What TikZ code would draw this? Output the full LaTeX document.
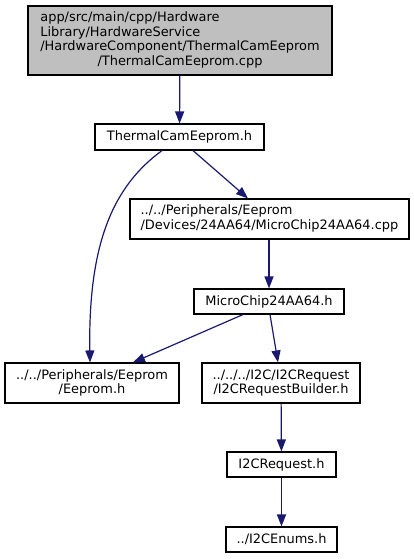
\documentclass[tikz,border=0pt]{standalone}
\usepackage{fontspec}
\setmainfont{DejaVu Sans}
\definecolor{DoxyEdge}{HTML}{191970}
\definecolor{DoxyRoot}{HTML}{BFBFBF}
\definecolor{DoxyBorder}{HTML}{000000}
\usetikzlibrary{arrows.meta,positioning}
\tikzset{
    % Plain file boxes
    filebox/.style={
        rectangle,
        draw=DoxyBorder,
        line width=1.1pt,
        fill=white,
        text=black,
        inner sep=0pt,
        align=center,
        font=\fontsize{12.95}{14.5}\selectfont
    },
    filebox root/.style={
        filebox,
        fill=DoxyRoot
    },
    include/.style={
        -{Triangle[length=12pt,width=9pt]},
        line width=1.2pt,
        color=DoxyEdge
    }
}
\begin{document}
\begin{tikzpicture}[x=1pt, y=-1pt]
        \useasboundingbox (0,0) rectangle (414,559);

        % Files
        \node[filebox root, minimum width=304pt, minimum height=69pt] (root) at (180,40.5)
              {\begin{tabular}{@{}l@{}}app/src/main/cpp/Hardware\\Library/HardwareService\\/HardwareComponent/ThermalCamEeprom\\\multicolumn{1}{@{}c@{}}{/ThermalCamEeprom.cpp}\end{tabular}};
        \node[filebox, minimum width=169pt, minimum height=26pt] (camh) at (179.5,137) {ThermalCamEeprom.h};
        \node[filebox, minimum width=279pt, minimum height=40pt] (chipcpp) at (269.5,219)
              {\begin{tabular}{@{}l@{}}../../Peripherals/Eeprom\\/Devices/24AA64/MicroChip24AA64.cpp\end{tabular}};
        \node[filebox, minimum width=150pt, minimum height=25pt] (chiph) at (269,301.5) {MicroChip24AA64.h};
        \node[filebox, minimum width=174pt, minimum height=40pt] (eeprom) at (92,383)
              {../../Peripherals/Eeprom\\/Eeprom.h};
        \node[filebox, minimum width=158pt, minimum height=40pt] (builder) at (281,383)
              {../../../I2C/I2CRequest\\/I2CRequestBuilder.h};
        \node[filebox, minimum width=109pt, minimum height=25pt] (request) at (281.5,464.5) {I2CRequest.h};
        \node[filebox, minimum width=111pt, minimum height=25pt] (enums) at (281.5,539.5) {../I2CEnums.h};

        % Includes
        \draw[include] (root) -- (camh);
        \draw[include] ([xshift=13.5pt]camh.south) -- ([xshift=-21.5pt]chipcpp.north);
        \draw[include] ([xshift=-17.5pt]camh.south) .. controls (115,185) and (88,240) .. ([xshift=-2pt]eeprom.north);
        \draw[include] (chipcpp.south -| chiph) -- (chiph);
        \draw[include] ([xshift=-26pt]chiph.south) -- ([xshift=41pt]eeprom.north);
        \draw[include] ([xshift=1pt]chiph.south) -- ([xshift=-3pt]builder.north);
        \draw[include] (builder) -- (request);
        \draw[include] (request) -- (enums);
    \end{tikzpicture}
\end{document}
